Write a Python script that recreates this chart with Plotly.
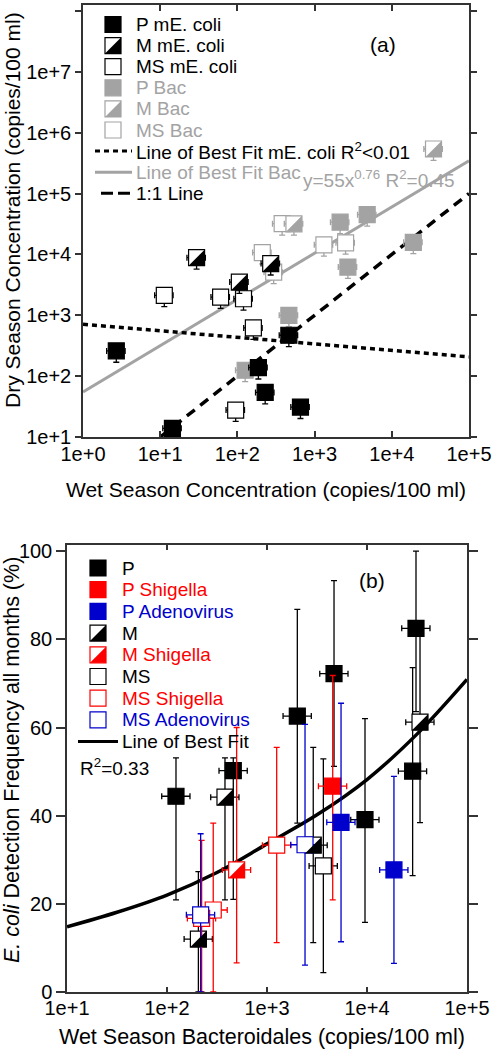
import plotly.graph_objects as go

W, H = 492, 1050
FONT = "Liberation Sans, Arial, Helvetica, sans-serif"
GRAY = "#a3a3a3"
RED = "#ff0000"
BLUE = "#0000cc"
AXC = "#333333"

# ---------------- tick labels ----------------
a_x_ticks = [1, 10, 100, 1000, 10000, 100000]
a_x_ticktext = ["1e+0", "1e+1", "1e+2", "1e+3", "1e+4", "1e+5"]
a_y_ticks = [1e1, 1e2, 1e3, 1e4, 1e5, 1e6, 1e7, 1e8]
a_y_ticktext = ["1e+1", "1e+2", "1e+3", "1e+4", "1e+5", "1e+6", "1e+7", "1e+8"]
b_x_ticks = [10, 100, 1000, 10000, 100000]
b_x_ticktext = ["1e+1", "1e+2", "1e+3", "1e+4", "1e+5"]
b_y_ticks = [0, 20, 40, 60, 80, 100]

# ---------------- panel (a) data: wet vs dry season ----------------
p_ecoli_wet = [2.7, 14.4, 187, 229, 656, 464]
p_ecoli_dry = [260, 13.9, 138, 54, 31, 470]
m_ecoli_wet = [29.6, 106, 270]
m_ecoli_dry = [8830, 3515, 7060]
ms_ecoli_wet = [11.3, 60.6, 120, 161, 95]
ms_ecoli_dry = [2130, 1990, 1870, 620, 27.7]
p_bac_wet = [126, 464, 2140, 4800, 2700, 19000]
p_bac_dry = [125, 1000, 33900, 44900, 6200, 15800]
m_bac_wet = [34700, 540]
m_bac_dry = [540000, 31800]
ms_bac_wet = [380, 1320, 2520, 210, 295]
ms_bac_dry = [32000, 14400, 15500, 10700, 5100]

fit_ecoli_wet = [1, 100000]
fit_ecoli_dry = [711, 207]
fit_bac_wet = [1, 100000]
fit_bac_dry = [55, 347000]
one_wet = [10, 100000]
one_dry = [10, 100000]

# ---------------- panel (b) data: detection frequency ----------------
p_x = [123, 460, 2010, 4680, 30900, 28600, 9550]
p_y = [44.4, 50.2, 62.6, 72.2, 82.5, 50.1, 39.1]
p_hi = [53.1, 53.1, 86.8, 93.3, 100, 73.6, 62.0]
p_lo = [20.9, 21.0, 38.3, 51.2, 63.6, 26.4, 15.8]
pshig_x = [4540]
pshig_y = [46.7]
pshig_hi = [71.8]
pshig_lo = [20.9]
padeno_x = [5500, 18600]
padeno_y = [38.5, 27.7]
padeno_hi = [65.5, 48.9]
padeno_lo = [11.4, 6.5]
m_x = [380, 206, 33900, 2900]
m_y = [44.2, 12.0, 61.2, 33.3]
m_hi = [53.1, 27.3, 82.0, 55.5]
m_lo = [20.9, 0, 38.4, 11.2]
mshig_x = [497]
mshig_y = [27.7]
mshig_hi = [60.0]
mshig_lo = [6.6]
ms_x = [3660]
ms_y = [28.6]
ms_hi = [52.9]
ms_lo = [4.4]
msshig_x = [1250, 290, 222]
msshig_y = [33.3, 18.6, 16.7]
msshig_hi = [55.5, 38.3, 34.4]
msshig_lo = [11.2, 0, 0]
msadeno_x = [217, 2400]
msadeno_y = [17.5, 33.4]
msadeno_hi = [35.9, 60.7]
msadeno_lo = [0, 6.1]

fitb_x = [10, 31.6, 100, 316, 1000, 3162, 10000, 31623, 100000]
fitb_y = [14.8, 18.1, 22.0, 27.1, 33.6, 40.2, 48.2, 58.5, 70.9]

# ---------------- helpers ----------------
SQ = "M-8,-8 L8,-8 L8,8 L-8,8 Z"
HALF = "M-8,-8 L8,-8 L8,8 Z"
MS = 16

fig = go.Figure()
shapes = []
annos = []


def px(v):
    return v / W


def py(v):
    return 1 - v / H


def line_trace(x, y, color, width, dash, xa, ya, shape="linear"):
    fig.add_trace(go.Scatter(x=x, y=y, mode="lines", xaxis=xa, yaxis=ya,
                             line=dict(color=color, width=width, dash=dash, shape=shape),
                             showlegend=False, hoverinfo="skip"))


def ea_x(c):
    return dict(type="percent", symmetric=False, value=30, valueminus=25,
                color=c, thickness=1.3, width=3)


def ea_y(c):
    return dict(type="percent", symmetric=False, value=0, valueminus=35,
                color=c, thickness=1.3, width=3)


def eb_x(c):
    return dict(type="percent", symmetric=False, value=38, valueminus=28,
                color=c, thickness=1.3, width=3)


def eb_y(y, hi, lo, c):
    return dict(type="data", symmetric=False,
                array=[h - v for h, v in zip(hi, y)],
                arrayminus=[v - l for v, l in zip(y, lo)],
                color=c, thickness=1.3, width=3)


def sq_trace(x, y, fill, edge, xa, ya, ex, ey):
    fig.add_trace(go.Scatter(x=x, y=y, mode="markers", xaxis=xa, yaxis=ya,
                             marker=dict(symbol="square", size=MS, color=fill,
                                         line=dict(color=edge, width=1.2)),
                             error_x=ex, error_y=ey, showlegend=False))


def half_shapes(xs, ys, color, xref, yref):
    for x, y in zip(xs, ys):
        shapes.append(dict(type="path", xref=xref, yref=yref, xsizemode="pixel",
                           ysizemode="pixel", xanchor=x, yanchor=y, path=HALF,
                           fillcolor=color, line=dict(width=0), layer="above"))


def text(t, x, y, size, color="black", xanchor="center", yanchor="middle", angle=0):
    annos.append(dict(text=t, xref="paper", yref="paper", x=px(x), y=py(y),
                      xanchor=xanchor, yanchor=yanchor, textangle=angle, showarrow=False,
                      font=dict(size=size, color=color, family=FONT)))


def legend(items, sym_x, text_x, line_x0, line_x1, row0, step, font_size):
    for i, (name, tcol, kind, col) in enumerate(items):
        yy = row0 + i * step
        if kind in ("fill", "open", "half"):
            fill = col if kind == "fill" else "white"
            shapes.append(dict(type="path", xref="paper", yref="paper", xsizemode="pixel",
                               ysizemode="pixel", xanchor=px(sym_x), yanchor=py(yy), path=SQ,
                               fillcolor=fill, line=dict(color=col, width=1.2)))
            if kind == "half":
                shapes.append(dict(type="path", xref="paper", yref="paper", xsizemode="pixel",
                                   ysizemode="pixel", xanchor=px(sym_x), yanchor=py(yy), path=HALF,
                                   fillcolor=col, line=dict(width=0)))
        else:
            dash = {"dot": "5px,4px", "solid": "solid", "dash": "12px,5px"}[kind]
            x0 = line_x0 + (6 if kind == "dash" else 0)
            shapes.append(dict(type="line", xref="paper", yref="paper", x0=px(x0), x1=px(line_x1),
                               y0=py(yy), y1=py(yy), line=dict(color=col, width=3, dash=dash)))
        text(name, text_x, yy, font_size, tcol, xanchor="left")


# ---------------- panel (a) ----------------
line_trace(fit_bac_wet, fit_bac_dry, GRAY, 3, "solid", "x", "y")
line_trace(fit_ecoli_wet, fit_ecoli_dry, "black", 3.5, "5px,4px", "x", "y")
line_trace(one_wet, one_dry, "black", 3.5, "10px,7px", "x", "y")

sq_trace(p_bac_wet, p_bac_dry, GRAY, GRAY, "x", "y", ea_x(GRAY), ea_y(GRAY))
sq_trace(ms_bac_wet, ms_bac_dry, "white", GRAY, "x", "y", ea_x(GRAY), ea_y(GRAY))
sq_trace(m_bac_wet, m_bac_dry, "white", GRAY, "x", "y", ea_x(GRAY), ea_y(GRAY))
half_shapes(m_bac_wet, m_bac_dry, GRAY, "x", "y")
sq_trace(ms_ecoli_wet, ms_ecoli_dry, "white", "black", "x", "y", ea_x("black"), ea_y("black"))
sq_trace(m_ecoli_wet, m_ecoli_dry, "white", "black", "x", "y", ea_x("black"), ea_y("black"))
half_shapes(m_ecoli_wet, m_ecoli_dry, "black", "x", "y")
sq_trace(p_ecoli_wet, p_ecoli_dry, "black", "black", "x", "y", ea_x("black"), ea_y("black"))

legend([
    ("P mE. coli", "black", "fill", "black"),
    ("M mE. coli", "black", "half", "black"),
    ("MS mE. coli", "black", "open", "black"),
    ("P Bac", GRAY, "fill", GRAY),
    ("M Bac", GRAY, "half", GRAY),
    ("MS Bac", GRAY, "open", GRAY),
    ("Line of Best Fit mE. coli R<sup>2</sup>&lt;0.01", "black", "dot", "black"),
    ("Line of Best Fit Bac", GRAY, "solid", GRAY),
    ("1:1 Line", "black", "dash", "black"),
], sym_x=113, text_x=134, line_x0=95, line_x1=132, row0=24.5, step=21.1, font_size=19)

text("(a)", 383, 45, 21)
text("y=55x<sup>0.76</sup> R<sup>2</sup>=0.45", 301, 179, 19, GRAY, xanchor="left")

# ---------------- panel (b) ----------------
line_trace(fitb_x, fitb_y, "black", 3.5, "solid", "x2", "y2", shape="spline")

sq_trace(p_x, p_y, "black", "black", "x2", "y2", eb_x("black"), eb_y(p_y, p_hi, p_lo, "black"))
sq_trace(ms_x, ms_y, "white", "black", "x2", "y2", eb_x("black"), eb_y(ms_y, ms_hi, ms_lo, "black"))
sq_trace(m_x, m_y, "white", "black", "x2", "y2", eb_x("black"), eb_y(m_y, m_hi, m_lo, "black"))
half_shapes(m_x, m_y, "black", "x2", "y2")
sq_trace(msshig_x, msshig_y, "white", RED, "x2", "y2", eb_x(RED), eb_y(msshig_y, msshig_hi, msshig_lo, RED))
sq_trace(msadeno_x, msadeno_y, "white", BLUE, "x2", "y2", eb_x(BLUE), eb_y(msadeno_y, msadeno_hi, msadeno_lo, BLUE))
sq_trace(mshig_x, mshig_y, "white", RED, "x2", "y2", eb_x(RED), eb_y(mshig_y, mshig_hi, mshig_lo, RED))
half_shapes(mshig_x, mshig_y, RED, "x2", "y2")
sq_trace(pshig_x, pshig_y, RED, RED, "x2", "y2", eb_x(RED), eb_y(pshig_y, pshig_hi, pshig_lo, RED))
sq_trace(padeno_x, padeno_y, BLUE, BLUE, "x2", "y2", eb_x(BLUE), eb_y(padeno_y, padeno_hi, padeno_lo, BLUE))

legend([
    ("P", "black", "fill", "black"),
    ("P Shigella", RED, "fill", RED),
    ("P Adenovirus", BLUE, "fill", BLUE),
    ("M", "black", "half", "black"),
    ("M Shigella", RED, "half", RED),
    ("MS", "black", "open", "black"),
    ("MS Shigella", RED, "open", RED),
    ("MS Adenovirus", BLUE, "open", BLUE),
    ("Line of Best Fit", "black", "solid", "black"),
], sym_x=98, text_x=120, line_x0=78, line_x1=118, row0=568, step=21.7, font_size=19)

text("R<sup>2</sup>=0.33", 78, 767, 19, xanchor="left")
text("(b)", 372, 580, 21)

# ---------------- axis titles ----------------
text("Dry Season Concentration (copies/100 ml)", 13, 210, 21, angle=-90)
text("Wet Season Concentration (copies/100 ml)", 266, 489, 21)
text("<i>E. coli</i> Detection Frequency all months (%)", 12, 760, 21.5, angle=-90)
text("Wet Season Bacteroidales (copies/100 ml)", 262, 1037, 21.5)

axis_common = dict(showline=True, linecolor=AXC, linewidth=1.5, mirror="ticks", showgrid=False,
                   zeroline=False, tickcolor=AXC, tickwidth=1.5, automargin=False,
                   tickfont=dict(size=20, family=FONT, color="black"))

fig.update_layout(
    width=W, height=H, autosize=False, margin=dict(l=0, r=0, t=0, b=0, pad=0),
    paper_bgcolor="white", plot_bgcolor="white", showlegend=False,
    font=dict(family=FONT, color="black", size=20),
    xaxis=dict(type="log", range=[0, 5], domain=[px(83), px(469)], anchor="y",
               tickmode="array", tickvals=a_x_ticks, ticktext=a_x_ticktext,
               ticks="inside", ticklen=6, ticklabelstandoff=-2, **axis_common),
    yaxis=dict(type="log", range=[1, 8.098], domain=[py(437), py(5)], anchor="x",
               tickmode="array", tickvals=a_y_ticks, ticktext=a_y_ticktext,
               ticks="outside", ticklen=6, **axis_common),
    xaxis2=dict(type="log", range=[1, 5], domain=[px(67), px(467)], anchor="y2",
                tickmode="array", tickvals=b_x_ticks, ticktext=b_x_ticktext,
                ticks="inside", ticklen=5, ticklabelstandoff=-3, **axis_common),
    yaxis2=dict(range=[0, 101.4], domain=[py(992), py(545)], anchor="x2",
                tickmode="array", tickvals=b_y_ticks,
                ticks="outside", ticklen=9, **axis_common),
    shapes=shapes, annotations=annos,
)

# remove the browser's default 8px page margin so the figure sits at the window origin
fig.write_html("out.html", config={"displayModeBar": False},
               post_script="document.body.style.margin='0px';")
